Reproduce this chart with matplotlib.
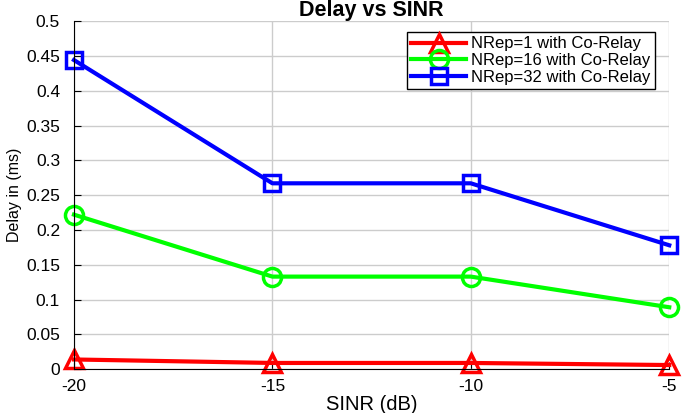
import matplotlib.pyplot as plt

sinr = [-20, -15, -10, -5]
delay_nrep1 = [0.014, 0.009, 0.009, 0.006]
delay_nrep16 = [0.222, 0.133, 0.133, 0.089]
delay_nrep32 = [0.444, 0.267, 0.267, 0.178]
labels = ['NRep=1 with Co-Relay', 'NRep=16 with Co-Relay', 'NRep=32 with Co-Relay']

plt.rcParams['font.family'] = ['Liberation Sans', 'DejaVu Sans']

fig = plt.figure(figsize=(6.85, 4.13), dpi=100)
ax = fig.add_axes([0.108, 0.106, 0.869, 0.843])

ax.plot(sinr, delay_nrep1, color='red', lw=3, marker='^', ms=13, mfc='none', mew=2.5, label=labels[0], clip_on=False)
ax.plot(sinr, delay_nrep16, color='#00ff00', lw=3, marker='o', ms=13, mfc='none', mew=2.5, label=labels[1], clip_on=False)
ax.plot(sinr, delay_nrep32, color='blue', lw=3, marker='s', ms=11, mfc='none', mew=2.5, label=labels[2], clip_on=False)

ax.set_xlim(-20, -5)
ax.set_ylim(0, 0.5)
ax.set_xticks(sinr)
ax.set_xticklabels(['-20', '-15', '-10', '-5'])
ax.set_yticks([0, 0.05, 0.1, 0.15, 0.2, 0.25, 0.3, 0.35, 0.4, 0.45, 0.5])
ax.set_yticklabels(['0', '0.05', '0.1', '0.15', '0.2', '0.25', '0.3', '0.35', '0.4', '0.45', '0.5'])
ax.grid(True, color='#cccccc', lw=1)
ax.set_axisbelow(True)
for s in ['top', 'right']:
    ax.spines[s].set_visible(False)
ax.tick_params(labelsize=12.5, direction='in', length=5)
ax.tick_params(axis='y', pad=10)
ax.tick_params(axis='x', pad=7)

ax.set_xlabel('SINR (dB)', fontsize=14.5, labelpad=1)
ax.set_ylabel('Delay in (ms)', fontsize=11.5, labelpad=3)
ax.set_title('Delay vs SINR', fontsize=15.5, fontweight='bold', pad=3)

leg = ax.legend(loc='upper right', bbox_to_anchor=(0.976, 0.968), fontsize=12, fancybox=False,
                framealpha=1, edgecolor='black', handlelength=3.3, borderpad=0.25, labelspacing=0.1,
                handletextpad=0.3, borderaxespad=0)
leg.get_frame().set_linewidth(1)

fig.savefig('out.png')
